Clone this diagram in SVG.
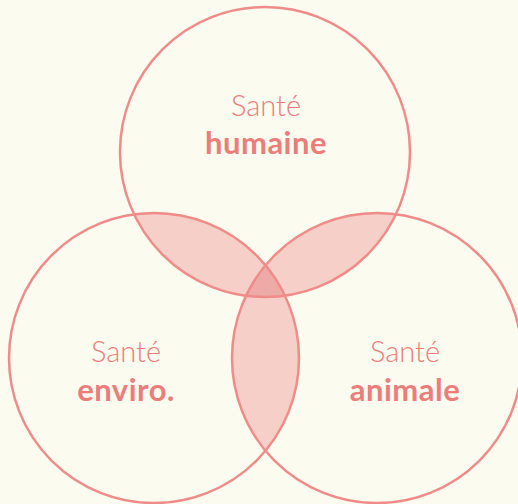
<svg xmlns="http://www.w3.org/2000/svg" width="518" height="504" viewBox="0 0 518 504">
<style>
.ring{fill:none;stroke:#ef8c8a;stroke-width:2.5}
.lt{font-family:Lato,"Open Sans",sans-serif;font-weight:300;font-size:29px;fill:#eb7d7b;text-anchor:middle}
.bd{font-family:Lato,"Open Sans",sans-serif;font-weight:700;font-size:31px;letter-spacing:0.5px;fill:#eb7d7b;text-anchor:middle}
</style>
<defs>
<clipPath id="cT"><circle cx="265" cy="152" r="145"/></clipPath>
<clipPath id="cL"><circle cx="154" cy="358" r="145"/></clipPath>
<clipPath id="cR"><circle cx="377" cy="358" r="145"/></clipPath>
</defs>
<rect width="518" height="504" fill="#fcfbef"/>
<g id="overlaps">
<g clip-path="url(#cT)"><circle cx="154" cy="358" r="145" fill="#f5cfc8"/><circle cx="377" cy="358" r="145" fill="#f5cfc8"/></g>
<g clip-path="url(#cL)"><circle cx="377" cy="358" r="145" fill="#f5cfc8"/></g>
<g clip-path="url(#cT)"><g clip-path="url(#cL)"><circle cx="377" cy="358" r="145" fill="#eeaaa6"/></g></g>
</g>
<g id="top"><circle class="ring" cx="265" cy="152" r="145"/><text class="lt" x="266" y="116">Santé</text><text class="bd" x="266" y="154">humaine</text></g>
<g id="left"><circle class="ring" cx="154" cy="358" r="145"/><text class="lt" x="126" y="362">Santé</text><text class="bd" x="126" y="401">enviro.</text></g>
<g id="right"><circle class="ring" cx="377" cy="358" r="145"/><text class="lt" x="405" y="362">Santé</text><text class="bd" x="405" y="401">animale</text></g>
</svg>
